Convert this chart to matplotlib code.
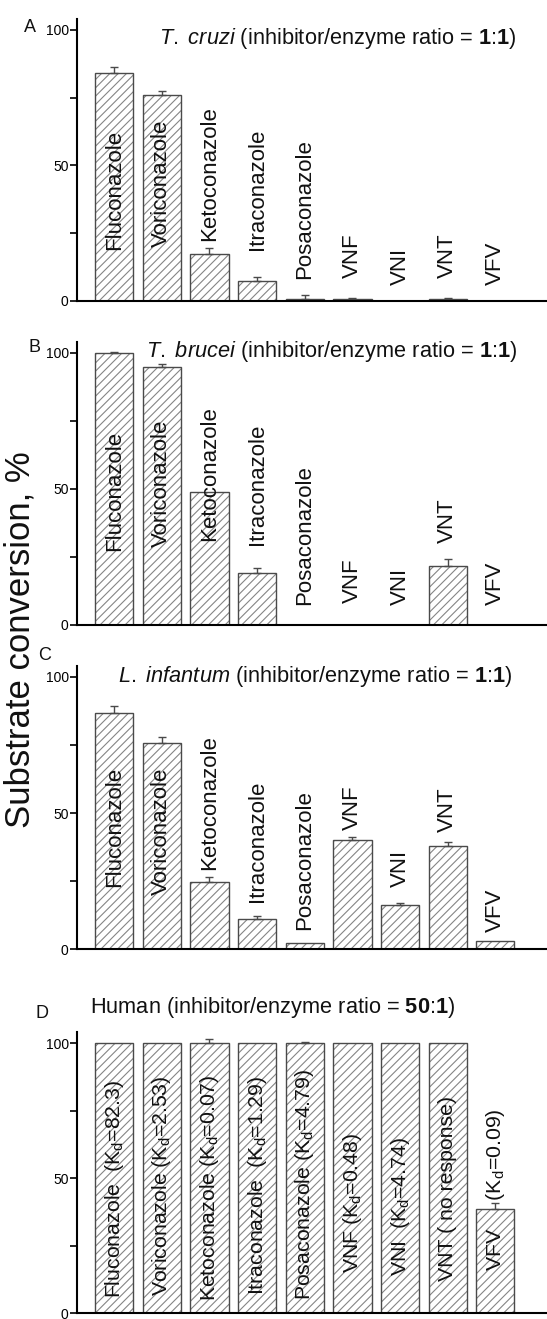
import numpy as np
import matplotlib.pyplot as plt

plt.rcParams["font.family"] = ["Liberation Sans", "DejaVu Sans"]
plt.rcParams["mathtext.fontset"] = "custom"
plt.rcParams["mathtext.rm"] = "Liberation Sans"
plt.rcParams["mathtext.it"] = "Liberation Sans:italic"
plt.rcParams["mathtext.bf"] = "Liberation Sans:bold"
plt.rcParams["hatch.linewidth"] = 0.8


# DONNÉES

drugs = ["Fluconazole", "Voriconazole", "Ketoconazole", "Itraconazole",
         "Posaconazole", "VNF", "VNI", "VNT", "VFV"]

cruzi = [84, 76, 17.5, 7.5, 0.8, 0.8, 0, 0.8, 0]
cruzi_err = [2.2, 1.4, 2, 1.2, 1.3, 0.4, 0, 0.4, 0]

brucei = [100, 95, 49, 19, 0, 0, 0, 21.8, 0]
brucei_err = [0.3, 1, 0, 1.8, 0, 0, 0, 2.3, 0]

infantum = [86.6, 75.8, 24.8, 11, 2.2, 40, 16.3, 38, 3.2]
infantum_err = [2.7, 2.2, 1.8, 1.2, 0, 1.2, 0.5, 1.5, 0]

human = [100, 100, 100, 100, 100, 100, 100, 100, 38.5]
human_err = [0, 0, 1.5, 0, 0.5, 0, 0, 0, 2.2]

human_labels = [r"Fluconazole  (K$_{\mathregular{d}}$=82.3)",
                r"Voriconazole (K$_{\mathregular{d}}$=2.53)",
                r"Ketoconazole (K$_{\mathregular{d}}$=0.07)",
                r"Itraconazole  (K$_{\mathregular{d}}$=1.29)",
                r"Posaconazole (K$_{\mathregular{d}}$=4.79)",
                r"VNF (K$_{\mathregular{d}}$=0.48)",
                r"VNI  (K$_{\mathregular{d}}$=4.74)",
                "VNT ( no response)",
                r"VFV     (K$_{\mathregular{d}}$=0.09)"]

titles = [r"$\mathit{T.}\ \mathit{cruzi}$ (inhibitor/enzyme ratio = $\mathbf{1}$:$\mathbf{1}$)",
          r"$\mathit{T.}\ \mathit{brucei}$ (inhibitor/enzyme ratio = $\mathbf{1}$:$\mathbf{1}$)",
          r"$\mathit{L.}\ \mathit{infantum}$ (inhibitor/enzyme ratio = $\mathbf{1}$:$\mathbf{1}$)",
          r"Human (inhibitor/enzyme ratio = $\mathbf{50}$:$\mathbf{1}$)"]

panel_letters = ["A", "B", "C", "D"]


# MISE EN PAGE

# bas des étiquettes verticales (en unités de l'axe y)
label_y = [[19, 20, 22, 19, 8, 8.5, 5.9, 8.5, 5.9],
           [27, 28.8, 31, 29.4, 7.4, 8, 7.4, 30, 7.4],
           [23, 20, 29, 17.5, 7, 43.8, 23, 43, 6.5],
           [5.5, 6.2, 4.3, 6.7, 4.8, 14.8, 13.6, 11.8, 15.5]]

label_size = [16, 16, 16, 15.3]

axes_boxes = [[0.1408, 0.7718, 0.859, 0.2137],
              [0.1408, 0.5262, 0.859, 0.2145],
              [0.1408, 0.2803, 0.859, 0.2149],
              [0.1408, 0.0045, 0.859, 0.2129]]

title_pos = [(0.936, 97, "right"), (0.936, 100.5, "right"),
             (0.926, 100, "right"), (0.028, 113, "left")]

letter_pos = [(30, 27), (35, 348), (45, 655), (42, 1013)]


# GRAPHIQUE

fig = plt.figure(figsize=(5.47, 13.19), dpi=100)

series = [(cruzi, cruzi_err, drugs), (brucei, brucei_err, drugs),
          (infantum, infantum_err, drugs), (human, human_err, human_labels)]

x = np.arange(len(drugs))

for k, (vals, err, labels) in enumerate(series):
    ax = fig.add_axes(axes_boxes[k])
    vals = np.array(vals, dtype=float)
    err = np.array(err, dtype=float)

    ax.bar(x, vals, width=0.8, color="white", edgecolor="#858585",
           hatch="////", linewidth=0)
    ax.bar(x, vals, width=0.8, fill=False, edgecolor="#4a4a4a", linewidth=1.0)

    has_err = err > 0
    ax.errorbar(x[has_err], vals[has_err],
                yerr=[np.zeros(has_err.sum()), err[has_err]],
                fmt="none", ecolor="#4a4a4a", elinewidth=1, capsize=3,
                capthick=1, clip_on=False)

    for i, lab in enumerate(labels):
        ax.text(x[i], label_y[k][i], lab, rotation=90, ha="center",
                va="bottom", fontsize=label_size[k], color="#111111")

    tx, ty, tha = title_pos[k]
    ax.annotate(titles[k], xy=(tx, ty), xycoords=("axes fraction", "data"),
                ha=tha, va="center", fontsize=15.7, color="#111111",
                annotation_clip=False)

    ax.set_xlim(-0.78, 9.08)
    ax.set_ylim(0, 104)
    ax.set_xticks([])
    ax.set_yticks([0, 50, 100])
    ax.set_yticks([25, 75], minor=True)
    ax.tick_params(axis="y", which="both", direction="out", length=5,
                   width=1.2, labelsize=10, pad=1)
    ax.spines["top"].set_visible(False)
    ax.spines["right"].set_visible(False)
    ax.spines["left"].set_linewidth(1.5)
    ax.spines["bottom"].set_linewidth(1.5)
    ax.patch.set_alpha(0)

    lx, ly = letter_pos[k]
    fig.text(lx / 547, 1 - ly / 1319, panel_letters[k], fontsize=13,
             ha="center", va="center", color="#111111")

fig.text(20 / 547, 1 - 640 / 1319, "Substrate conversion, %", rotation=90,
         fontsize=25, ha="center", va="center", color="#111111")

plt.savefig("out.png", dpi=100)
